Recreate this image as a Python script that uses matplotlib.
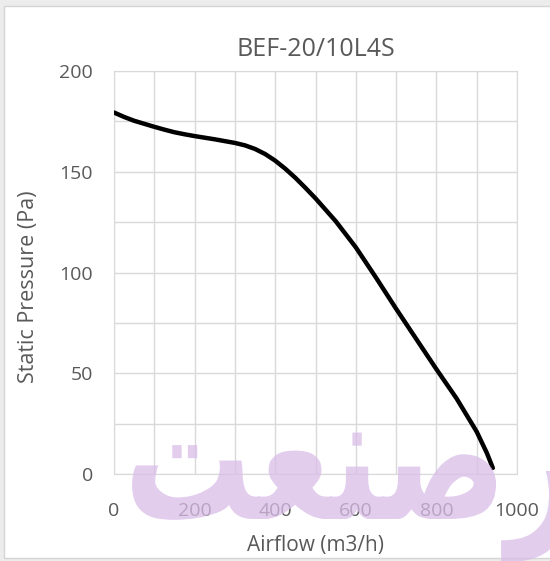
import matplotlib.pyplot as plt
from matplotlib.patches import Rectangle
from matplotlib.patheffects import AbstractPathEffect
from matplotlib.transforms import Affine2D

# fan curve
airflow = [0, 25, 50, 75, 100, 125, 150, 175, 200, 250, 300, 325, 350, 375,
           400, 425, 450, 475, 500, 550, 600, 650, 700, 750, 800, 850, 900,
           925, 940]
pressure = [179.4, 177.2, 175.3, 173.8, 172.3, 170.9, 169.6, 168.6, 167.7,
            166.1, 164.3, 163.1, 161.3, 158.8, 155.5, 151.5, 147.0, 142.0,
            136.8, 125.5, 112.5, 97.5, 82, 67, 52, 37.5, 21, 10.5, 3]

x_ticks = [0, 200, 400, 600, 800, 1000]
y_ticks = [0, 50, 100, 150, 200]

title = "BEF-20/10L4S"
x_label = "Airflow (m3/h)"
y_label = "Static Pressure (Pa)"
# pre-shaped glyphs, laid out left to right as they appear
watermark = "\ufe96\ufecc\ufee8\ufebb\ufead"

plt.rcParams['font.family'] = ['Open Sans', 'DejaVu Sans']
text_gray = '#595959'
grid_gray = '#d9d9d9'


class Stretch(AbstractPathEffect):
    # squash/stretch glyphs around a fixed point (display pixels)
    def __init__(self, x0, y0, sx, sy):
        super().__init__()
        self.t = Affine2D().translate(-x0, -y0).scale(sx, sy).translate(x0, y0)

    def draw_path(self, renderer, gc, tpath, affine, rgbFace=None):
        renderer.draw_path(gc, tpath, affine + self.t, rgbFace)


W, H = 550, 561
fig = plt.figure(figsize=(W / 100, H / 100), dpi=100)
fig.patch.set_facecolor('#ececec')
fig.patches.append(Rectangle((4 / W, 3 / H), 1.0, 552 / H,
                             transform=fig.transFigure, facecolor='white',
                             edgecolor='#d4d4d4', lw=1, zorder=-5))

ax = fig.add_axes([114 / W, 1 - 474 / H, 403 / W, 403 / H])
ax.patch.set_alpha(0)
ax.plot(airflow, pressure, color='black', lw=3.2, solid_capstyle='round',
        solid_joinstyle='round', zorder=3)

ax.set_xlim(0, 1000)
ax.set_ylim(0, 200)
ax.set_xticks(x_ticks)
ax.set_yticks(y_ticks)
ax.set_xticks(range(0, 1001, 100), minor=True)
ax.set_yticks(range(0, 201, 25), minor=True)
ax.grid(True, which='both', color=grid_gray, lw=1)
ax.set_axisbelow(True)
for s in ax.spines.values():
    s.set_color(grid_gray)
ax.tick_params(which='both', length=0)
ax.tick_params(axis='y', pad=15, labelsize=14, labelcolor=text_gray)
ax.tick_params(axis='x', pad=20, labelsize=14, labelcolor=text_gray)

ax.set_title(title, fontsize=18, color=text_gray, pad=11)
ax.set_xlabel(x_label, fontsize=15, color=text_gray, labelpad=11)
ax.set_ylabel(y_label, fontsize=15.5, color=text_gray)
ax.yaxis.set_label_coords(-0.185, 0.465)

# watermark across the bottom
bx, by = 124, H - 519
fig.text(bx / W, by / H, watermark, family='DejaVu Sans', fontweight='bold',
         fontsize=112, color='#d9bde8', alpha=0.75, ha='left', va='baseline',
         zorder=5, path_effects=[Stretch(bx, by, 0.82, 1.15)])

fig.savefig('out.png', dpi=100, facecolor=fig.get_facecolor())
